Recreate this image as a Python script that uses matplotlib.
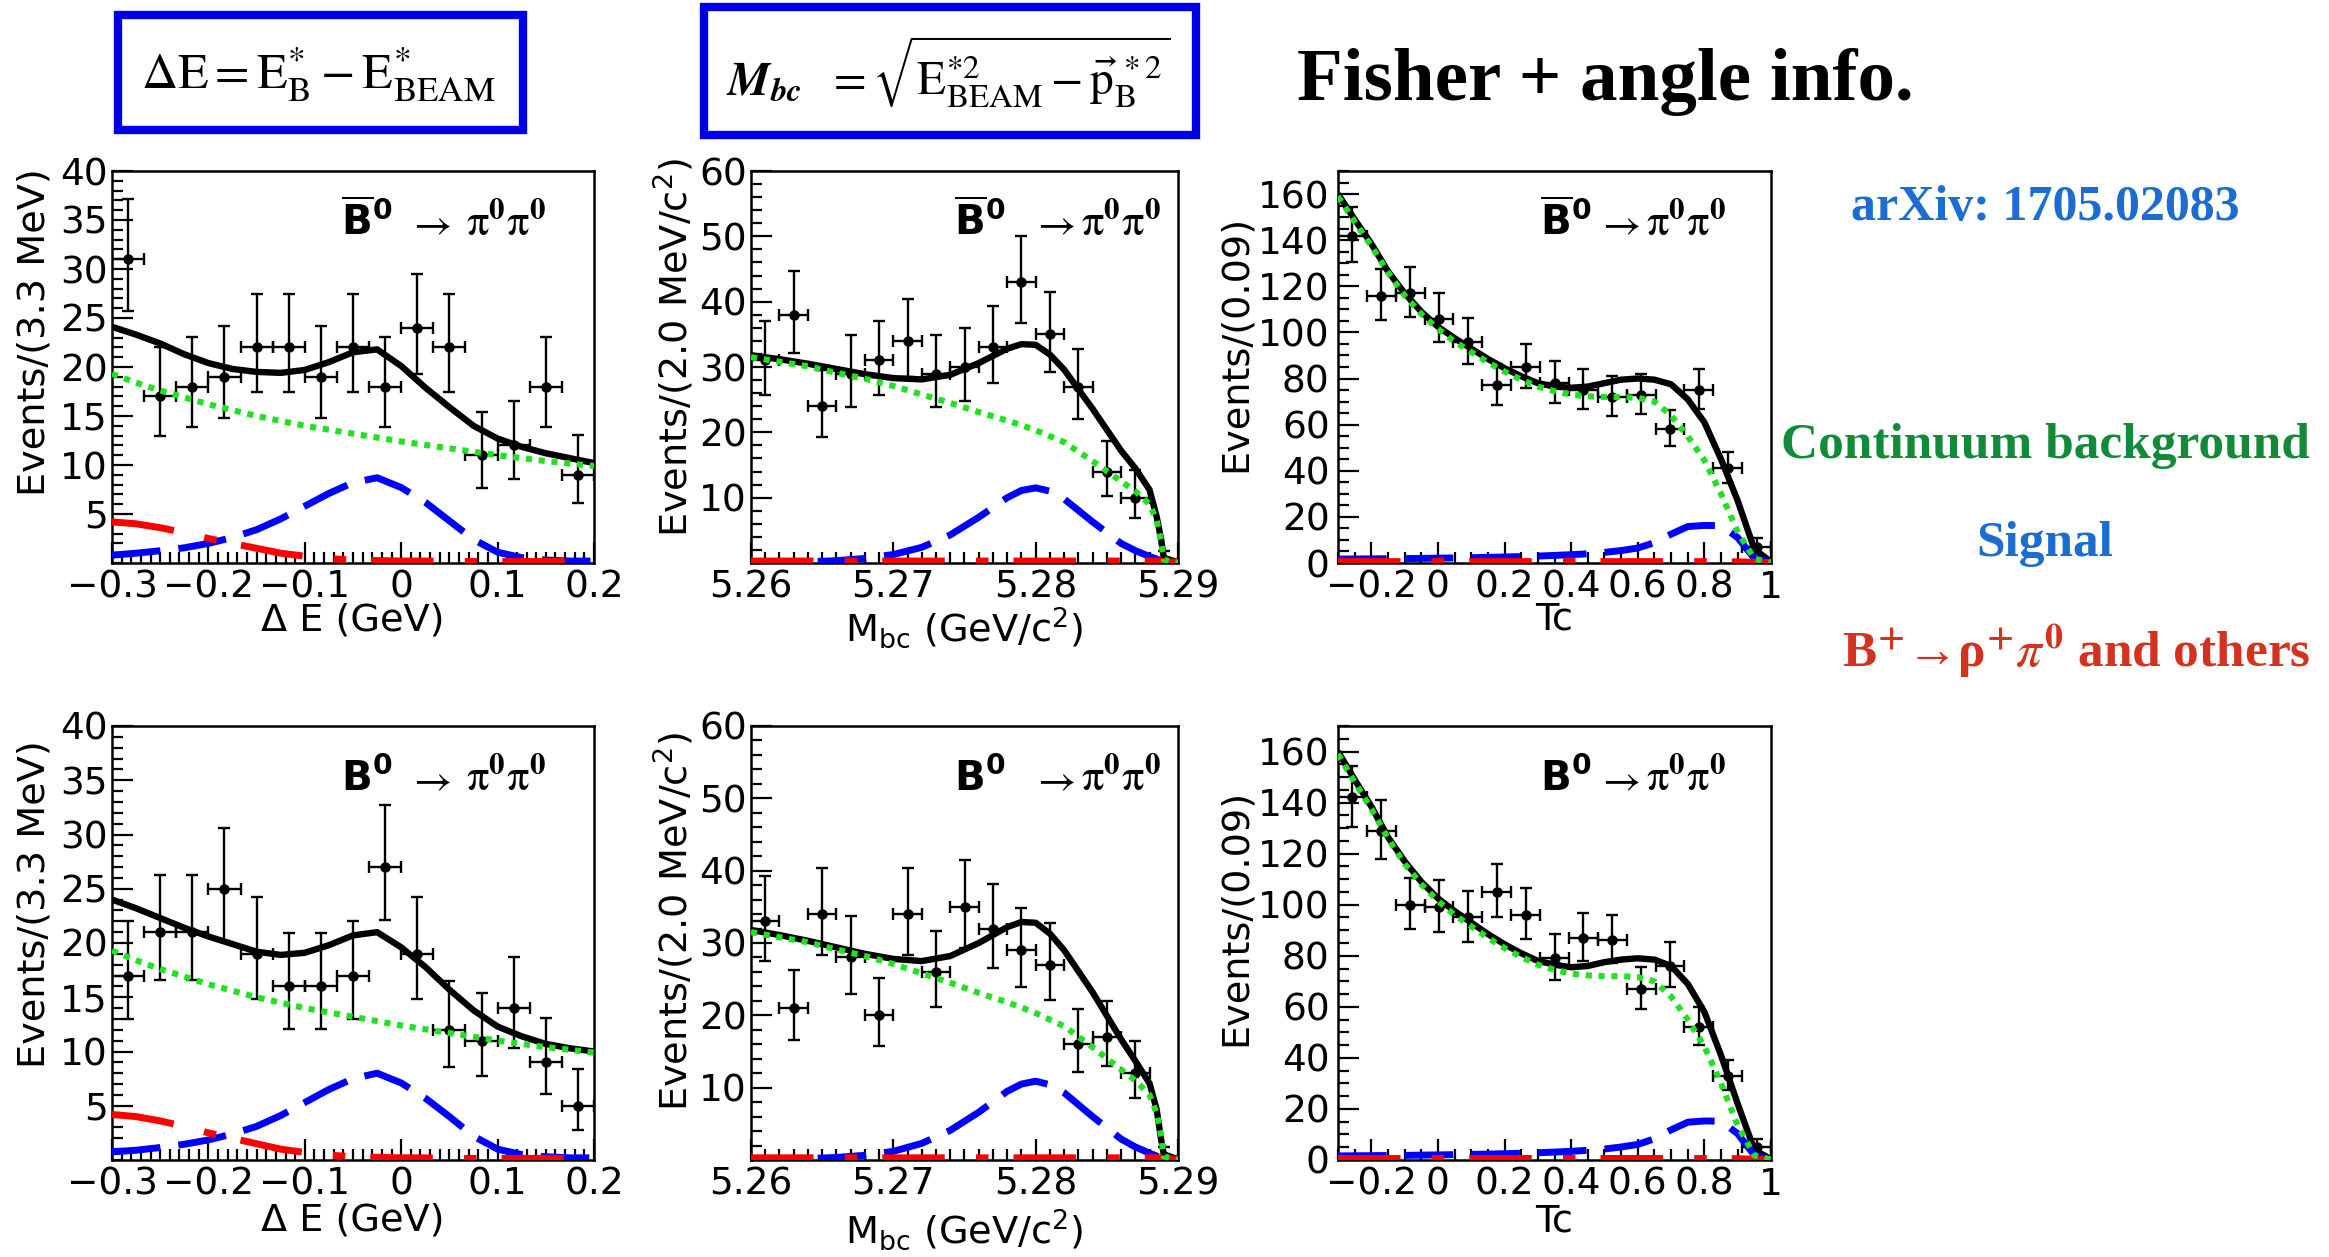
import matplotlib
matplotlib.use("Agg")
import matplotlib.pyplot as plt
from matplotlib.patches import Rectangle
from matplotlib.ticker import MultipleLocator

plt.rcParams['font.family'] = ['DejaVu Sans']
plt.rcParams['axes.unicode_minus'] = True

W, H = 2329, 1257

# ---------------- binned data ----------------
de_centers = [-0.2833, -0.25, -0.2167, -0.1833, -0.15, -0.1167, -0.0833, -0.05,
              -0.0167, 0.0167, 0.05, 0.0833, 0.1167, 0.15, 0.1833]
de_half = 0.0167
mbc_centers = [5.261, 5.263, 5.265, 5.267, 5.269, 5.271, 5.273, 5.275,
               5.277, 5.279, 5.281, 5.283, 5.285, 5.287, 5.289]
mbc_half = 0.001
tc_centers = [-0.2567, -0.17, -0.0833, 0.0033, 0.09, 0.1767, 0.2633, 0.35,
              0.4367, 0.5233, 0.61, 0.6967, 0.7833, 0.87, 0.9567]
tc_half = 0.0433

# B0bar sample
de_cnt_bbar = [31, 17, 18, 19, 22, 22, 19, 22, 18, 24, 22, 11, 12, 18, 9]
de_lo_bbar = [5.3, 4.0, 4.1, 4.2, 4.5, 4.5, 4.2, 4.5, 4.1, 4.7, 4.5, 3.3, 3.4, 4.1, 2.9]
de_hi_bbar = [6.1, 5.0, 5.1, 5.2, 5.4, 5.4, 5.2, 5.4, 5.1, 5.5, 5.4, 4.4, 4.5, 5.1, 4.1]

mbc_cnt_bbar = [31, 38, 24, 29, 31, 34, 29, 30, 33, 43, 35, 27, 14, 10, 0]
mbc_lo_bbar = [5.3, 5.9, 4.7, 5.1, 5.3, 5.6, 5.1, 5.2, 5.5, 6.3, 5.7, 4.9, 3.7, 3.1, 0.0]
mbc_hi_bbar = [6.1, 6.7, 5.5, 5.9, 6.1, 6.4, 5.9, 6.0, 6.3, 7.1, 6.5, 5.7, 4.7, 4.3, 1.8]

tc_cnt_bbar = [142, 116, 117, 106, 96, 77, 85, 78, 75, 72, 73, 58, 75, 41, 7]
tc_lo_bbar = [11.6, 10.5, 10.5, 10.0, 9.5, 8.5, 8.9, 8.5, 8.4, 8.2, 8.2, 7.3, 8.4, 6.1, 2.6]
tc_hi_bbar = [12.5, 11.3, 11.4, 10.9, 10.4, 9.3, 9.8, 9.4, 9.2, 9.0, 9.1, 8.2, 9.2, 7.0, 3.8]

# B0 sample
de_cnt_b = [17, 21, 21, 25, 19, 16, 16, 17, 27, 19, 12, 11, 14, 9, 5]
de_lo_b = [4.0, 4.4, 4.4, 4.8, 4.2, 3.9, 3.9, 4.0, 4.9, 4.2, 3.4, 3.3, 3.7, 2.9, 2.2]
de_hi_b = [5.0, 5.3, 5.3, 5.6, 5.2, 4.9, 4.9, 5.0, 5.7, 5.2, 4.5, 4.4, 4.7, 4.1, 3.4]

mbc_cnt_b = [33, 21, 34, 28, 20, 34, 26, 35, 32, 29, 27, 16, 17, 12, 0]
mbc_lo_b = [5.5, 4.4, 5.6, 5.0, 4.3, 5.6, 4.9, 5.7, 5.4, 5.1, 4.9, 3.9, 4.0, 3.4, 0.0]
mbc_hi_b = [6.3, 5.3, 6.4, 5.8, 5.2, 6.4, 5.6, 6.5, 6.2, 5.9, 5.7, 4.9, 5.0, 4.5, 1.8]

tc_cnt_b = [142, 129, 100, 99, 95, 105, 96, 79, 87, 86, 67, 76, 52, 33, 5]
tc_lo_b = [11.6, 11.1, 9.7, 9.7, 9.5, 10.0, 9.5, 8.6, 9.0, 9.0, 7.9, 8.4, 6.9, 5.5, 2.2]
tc_hi_b = [12.5, 11.9, 10.6, 10.5, 10.3, 10.8, 10.4, 9.4, 9.9, 9.8, 8.7, 9.3, 7.8, 6.3, 3.4]

# ---------------- fit projections ----------------
de_grid = [-0.300, -0.275, -0.250, -0.225, -0.200, -0.175, -0.150, -0.125, -0.100,
           -0.075, -0.050, -0.025, 0.000, 0.025, 0.050, 0.075, 0.100, 0.125,
           0.150, 0.175, 0.200]
de_cont = [19.3, 18.4, 17.6, 16.9, 16.2, 15.6, 15.0, 14.5, 14.0, 13.6, 13.2, 12.8,
           12.4, 12.05, 11.7, 11.35, 11.0, 10.7, 10.4, 10.15, 9.9]
de_other = [4.2, 4.0, 3.6, 3.1, 2.5, 2.0, 1.5, 1.0, 0.7, 0.45, 0.3, 0.25, 0.2, 0.2,
            0.15, 0.15, 0.15, 0.15, 0.15, 0.15, 0.15]
de_sig_bbar = [0.8, 1.0, 1.25, 1.55, 2.0, 2.6, 3.4, 4.5, 5.8, 7.1, 8.2, 8.7, 7.7, 6.2,
               4.3, 2.4, 1.1, 0.55, 0.3, 0.2, 0.2]
de_tot_bbar = [24.1, 23.3, 22.4, 21.3, 20.4, 19.8, 19.5, 19.4, 19.7, 20.5, 21.5, 21.8,
               20.1, 17.9, 15.9, 14.0, 12.7, 11.85, 11.2, 10.7, 10.2]
de_sig_b = [0.75, 0.9, 1.15, 1.45, 1.85, 2.4, 3.1, 4.1, 5.3, 6.5, 7.5, 8.0, 7.1, 5.7,
            4.0, 2.2, 1.0, 0.5, 0.3, 0.2, 0.2]
de_tot_b = [24.0, 23.2, 22.3, 21.4, 20.6, 19.9, 19.2, 18.9, 19.1, 19.8, 20.7, 21.0,
            19.6, 17.8, 15.7, 13.8, 12.3, 11.4, 10.7, 10.3, 10.0]

mbc_grid = [5.260, 5.262, 5.264, 5.266, 5.268, 5.270, 5.272, 5.274, 5.276, 5.278,
            5.279, 5.280, 5.281, 5.282, 5.284, 5.286, 5.287, 5.288, 5.2885, 5.2888,
            5.2890, 5.2900]
mbc_cont = [31.5, 30.8, 30.1, 29.1, 28.2, 27.1, 25.8, 24.5, 23.1, 21.8, 21.1, 20.3,
            19.4, 18.5, 15.6, 12.5, 11.0, 9.0, 6.5, 3.5, 0.5, 0.0]
mbc_other = [0.3, 0.3, 0.3, 0.3, 0.3, 0.3, 0.3, 0.3, 0.3, 0.3, 0.3, 0.3, 0.3, 0.3,
             0.3, 0.3, 0.3, 0.3, 0.3, 0.3, 0.2, 0.1]
mbc_sig_bbar = [0.05, 0.1, 0.2, 0.35, 0.7, 1.3, 2.4, 4.3, 7.0, 10.0, 11.1, 11.5, 11.0,
                9.8, 6.3, 3.0, 1.9, 1.0, 0.6, 0.35, 0.1, 0.0]
mbc_tot_bbar = [31.8, 31.2, 30.5, 29.7, 28.9, 28.3, 28.1, 28.8, 30.6, 32.8, 33.5, 33.4,
                31.9, 29.6, 23.6, 17.2, 14.5, 11.2, 7.1, 3.8, 0.8, 0.1]
mbc_sig_b = [0.05, 0.1, 0.2, 0.35, 0.65, 1.2, 2.3, 4.1, 6.6, 9.5, 10.5, 10.9, 10.4,
             9.3, 6.0, 2.9, 1.8, 0.95, 0.55, 0.3, 0.1, 0.0]
mbc_tot_b = [31.8, 31.1, 30.3, 29.4, 28.5, 27.8, 27.5, 28.2, 30.0, 32.2, 32.9, 32.8,
             31.3, 29.0, 23.2, 16.7, 13.7, 10.6, 7.0, 3.0, 0.8, 0.1]

tc_grid = [-0.30, -0.25, -0.20, -0.15, -0.10, -0.05, 0.00, 0.05, 0.10, 0.15, 0.20,
           0.25, 0.30, 0.35, 0.40, 0.45, 0.50, 0.55, 0.60, 0.65, 0.70, 0.75, 0.80,
           0.85, 0.90, 0.95, 1.00]
tc_cont = [159, 148, 137.5, 126, 116, 108, 101.5, 96, 91.5, 87, 83, 79.5, 76.5, 74.5,
           73, 72.3, 72, 72, 71.6, 70, 64, 55, 44.5, 30, 13.5, 1.8, 0.2]
tc_other = [0.6, 0.6, 0.6, 0.6, 0.6, 0.6, 0.6, 0.6, 0.6, 0.6, 0.6, 0.6, 0.6, 0.6,
            0.6, 0.6, 0.6, 0.6, 0.6, 0.6, 0.6, 0.6, 0.6, 0.6, 0.5, 0.3, 0.1]
tc_sig_bbar = [1.7, 1.75, 1.8, 1.85, 1.9, 2.0, 2.1, 2.2, 2.3, 2.45, 2.6, 2.8, 3.0, 3.3,
               3.6, 4.0, 4.6, 5.4, 6.5, 8.8, 12.5, 15.8, 16.3, 16.2, 11.0, 2.0, 0.2]
tc_tot_bbar = [160, 149, 138.5, 126.5, 117, 109, 102.5, 97.5, 93, 88.5, 84.5, 81, 78,
               76.5, 76, 76.5, 78, 79.5, 80, 79.5, 77.5, 71, 61, 45, 27, 6, 0.5]
tc_sig_b = [1.6, 1.65, 1.7, 1.75, 1.8, 1.9, 2.0, 2.1, 2.2, 2.3, 2.45, 2.65, 2.85, 3.1,
            3.4, 3.8, 4.3, 5.1, 6.1, 8.3, 11.8, 14.8, 15.3, 15.2, 10.3, 1.9, 0.2]
tc_tot_b = [160, 149, 138.5, 126.5, 117, 109, 102.5, 97.5, 93, 88.5, 84.5, 81, 78,
            76.5, 75.5, 76, 77.5, 78.5, 79, 78.5, 76, 69, 58, 41, 22, 4, 0.3]

# ---------------- axis ticks and labels ----------------
de_xticks = [-0.3, -0.2, -0.1, 0.0, 0.1, 0.2]
de_xlabels = ['\u22120.3', '\u22120.2', '\u22120.1', '0', '0.1', '0.2']
de_yticks = [5, 10, 15, 20, 25, 30, 35, 40]
mbc_xticks = [5.26, 5.27, 5.28, 5.29]
mbc_xlabels = ['5.26', '5.27', '5.28', '5.29']
mbc_yticks = [10, 20, 30, 40, 50, 60]
tc_xticks = [-0.2, 0.0, 0.2, 0.4, 0.6, 0.8, 1.0]
tc_xlabels = ['\u22120.2', '0', '0.2', '0.4', '0.6', '0.8', '1']
tc_yticks = [0, 20, 40, 60, 80, 100, 120, 140, 160]

C_TOT = 'black'
C_CONT = '#22e022'
C_SIG = '#0000ff'
C_OTH = '#ff0000'

fig = plt.figure(figsize=(W / 100, H / 100), dpi=100)


def axes_px(x0, y0, x1, y1):
    return fig.add_axes([x0 / W, 1 - y1 / H, (x1 - x0) / W, (y1 - y0) / H])


def draw_panel(ax, centers, half, cnt, lo, hi, grid, tot, cont, sig, oth,
               xlim, ylim, xticks, xlabels, xminor, yticks, yminor,
               xlabel, ylabel, ylab_pos, xlab_off, ypad):
    ax.errorbar(centers, cnt, yerr=[lo, hi], xerr=half, fmt='o', ms=6.5,
                color='black', ecolor='black', elinewidth=1.7, capsize=4,
                capthick=1.7, zorder=2)
    ax.plot(grid, tot, color=C_TOT, lw=4.6, zorder=3, solid_capstyle='butt')
    ax.plot(grid, sig, color=C_SIG, lw=5.0, ls=(0, (7, 2.6)), zorder=4)
    ax.plot(grid, oth, color=C_OTH, lw=5.0, ls=(0, (9, 4.5, 1.8, 3.6)), zorder=5)
    ax.plot(grid, cont, color=C_CONT, lw=4.4, ls=(0, (1.0, 1.1)), zorder=6)
    ax.set_xlim(*xlim)
    ax.set_ylim(*ylim)
    ax.set_xticks(xticks)
    ax.set_xticklabels(xlabels)
    ax.set_yticks(yticks)
    ax.xaxis.set_minor_locator(MultipleLocator(xminor))
    ax.yaxis.set_minor_locator(MultipleLocator(yminor))
    ax.tick_params(which='both', direction='in', top=False, right=False,
                   labelsize=27, width=1.6, color='black')
    ax.tick_params(which='major', length=15)
    ax.tick_params(which='minor', length=8)
    ax.tick_params(axis='x', pad=5)
    ax.tick_params(axis='y', pad=ypad)
    for sp in ax.spines.values():
        sp.set_linewidth(1.8)
    ax.set_xlabel(xlabel, fontsize=27.5)
    ax.xaxis.set_label_coords(0.5, xlab_off)
    ax.xaxis.label.set_va('center')
    ax.set_ylabel(ylabel, fontsize=27.5)
    ax.yaxis.set_label_coords(*ylab_pos)
    ax.yaxis.label.set_va('center')
    ax.yaxis.label.set_ha('center')


def panel_title(ax, bar, xb, xa, xp, yb):
    if bar:
        btxt = r'$\overline{\mathbf{B}}^{\mathbf{0}}$'
    else:
        btxt = r'$\mathbf{B}^{\mathbf{0}}$'
    ax.text(xb, yb, btxt, transform=ax.transAxes, fontsize=29,
            math_fontfamily='dejavusans', ha='left', va='baseline')
    ax.text(xa, yb, r'$\rightarrow$', transform=ax.transAxes, fontsize=30,
            math_fontfamily='stix', ha='left', va='baseline')
    ax.text(xp, yb, r'$\mathrm{\pi}^{\mathbf{0}}\mathrm{\pi}^{\mathbf{0}}$',
            transform=ax.transAxes, fontsize=32, math_fontfamily='stix',
            ha='left', va='baseline')


rows = [
    dict(y0=171, y1=563, bar=True, yb=0.835,
         de=(de_cnt_bbar, de_lo_bbar, de_hi_bbar, de_tot_bbar, de_sig_bbar),
         mbc=(mbc_cnt_bbar, mbc_lo_bbar, mbc_hi_bbar, mbc_tot_bbar, mbc_sig_bbar),
         tc=(tc_cnt_bbar, tc_lo_bbar, tc_hi_bbar, tc_tot_bbar, tc_sig_bbar)),
    dict(y0=726, y1=1160, bar=False, yb=0.85,
         de=(de_cnt_b, de_lo_b, de_hi_b, de_tot_b, de_sig_b),
         mbc=(mbc_cnt_b, mbc_lo_b, mbc_hi_b, mbc_tot_b, mbc_sig_b),
         tc=(tc_cnt_b, tc_lo_b, tc_hi_b, tc_tot_b, tc_sig_b)),
]

for r in rows:
    h = r['y1'] - r['y0']
    xoff = -57.0 / h if r['bar'] else -61.0 / h

    ax = axes_px(112, r['y0'], 594, r['y1'])
    c, lo, hi, tot, sig = r['de']
    draw_panel(ax, de_centers, de_half, c, lo, hi, de_grid, tot, de_cont, sig,
               de_other, (-0.3, 0.2), (0, 40), de_xticks, de_xlabels, 0.01,
               de_yticks, 1, '\u0394 E (GeV)', 'Events/(3.3 MeV)',
               (-0.16, 0.59), xoff, 3)
    panel_title(ax, r['bar'], 0.475, 0.612, 0.735, r['yb'])

    ax = axes_px(751, r['y0'], 1178, r['y1'])
    c, lo, hi, tot, sig = r['mbc']
    draw_panel(ax, mbc_centers, mbc_half, c, lo, hi, mbc_grid, tot, mbc_cont, sig,
               mbc_other, (5.26, 5.29), (0, 60), mbc_xticks, mbc_xlabels, 0.001,
               mbc_yticks, 2, r'M$_{\rm bc}$ (GeV/c$^{2}$)',
               r'Events/(2.0 MeV/c$^{2}$)', (-0.18, 0.55), xoff - 0.02, 3)
    panel_title(ax, r['bar'], 0.475, 0.655, 0.772, r['yb'])

    ax = axes_px(1338, r['y0'], 1771, r['y1'])
    c, lo, hi, tot, sig = r['tc']
    draw_panel(ax, tc_centers, tc_half, c, lo, hi, tc_grid, tot, tc_cont, sig,
               tc_other, (-0.3, 1.0), (0, 170), tc_xticks, tc_xlabels, 0.05,
               tc_yticks, 5, 'Tc', 'Events/(0.09)', (-0.237, 0.56), xoff, 6)
    panel_title(ax, r['bar'], 0.467, 0.596, 0.712, r['yb'])

# ---------------- header boxes and annotations ----------------
BOX_BLUE = '#0000e6'
for (x0, y0, x1, y1) in [(118, 15, 523, 130), (704, 7, 1196, 135)]:
    fig.patches.append(Rectangle((x0 / W, 1 - y1 / H), (x1 - x0) / W, (y1 - y0) / H,
                                 transform=fig.transFigure, fill=False,
                                 edgecolor=BOX_BLUE, linewidth=6))

fig.text(318 / W, 1 - 75 / H,
         r'$\Delta\mathrm{E} = \mathrm{E}^{*}_{\mathrm{B}} - \mathrm{E}^{*}_{\mathrm{BEAM}}$',
         fontsize=36, math_fontfamily='stix', ha='center', va='center')
fig.text(948 / W, 1 - 72 / H,
         r'$\mathbfit{M}_{\mathbfit{bc}}\ \ = \sqrt{\mathrm{E}^{*2}_{\mathrm{BEAM}} - \vec{\mathrm{p}}^{\,*2}_{\mathrm{B}}}$',
         fontsize=34, math_fontfamily='stix', ha='center', va='center')

fig.text(1297 / W, 1 - 100 / H, 'Fisher + angle info.', fontsize=54,
         fontweight='bold', family='Liberation Serif', ha='left', va='baseline')

SERIF = ['Liberation Serif', 'DejaVu Serif']
fig.text(2045 / W, 1 - 208 / H, 'arXiv: 1705.02083', fontsize=36, fontweight='bold',
         family=SERIF, color='#1b6dcf', ha='center', va='center')
fig.text(2045 / W, 1 - 446 / H, 'Continuum background', fontsize=37,
         fontweight='bold', family=SERIF, color='#138a3a',
         ha='center', va='center')
fig.text(2045 / W, 1 - 544 / H, 'Signal', fontsize=37, fontweight='bold',
         family=SERIF, color='#1b6dcf', ha='center', va='center')
fig.text(2076 / W, 1 - 651 / H,
         'B$^{\\mathbf{+}}$\u2192\u03c1$^{\\mathbf{+}}$$\\pi^{\\mathbf{0}}$ and others',
         fontsize=37, fontweight='bold', family=SERIF, math_fontfamily='stix',
         color='#d4321e', ha='center', va='center')

fig.savefig('out.png', dpi=100)
